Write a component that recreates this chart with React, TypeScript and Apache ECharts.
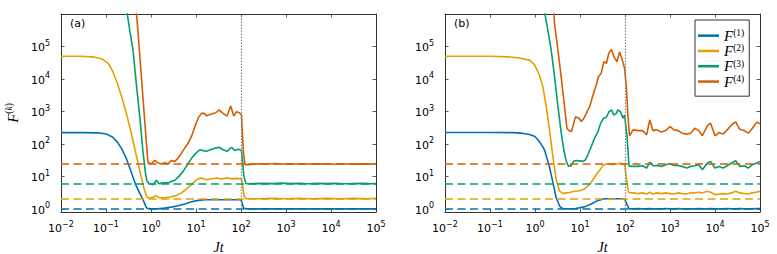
import React, { useEffect, useRef } from "react";
import * as echarts from "echarts";

// ---------- data (first value of each pair: log10(Jt), second: F^(k)) ----------
const SERIES_NAMES = ["F1", "F2", "F3", "F4"];
const COLORS = ["#0072B2", "#E69F00", "#009E73", "#D55E00"];
const EXACT_VALUES = [1, 2, 6, 24];
const QUENCH_TIME = 100;
const X_MIN = 0.01;
const X_MAX = 1e5;
const Y_MIN = 0.8;
const Y_MAX = 1e6;

const A_F1 = [
  [-2, 222], [-1.5, 222], [-1.2, 218], [-1.05, 208], [-0.95, 190], [-0.85, 160], [-0.75, 115],
  [-0.65, 70], [-0.55, 36], [-0.45, 15], [-0.35, 6], [-0.25, 3.0], [-0.18, 1.95], [-0.1, 1.07],
  [-0.03, 1.0], [0.05, 1.0], [0.15, 1.0], [0.3, 1.06], [0.45, 1.13], [0.6, 1.24], [0.75, 1.42],
  [0.9, 1.65], [1.05, 1.82], [1.2, 1.9], [1.5, 1.9], [1.8, 1.9], [2.0, 1.9], [2.06, 1.05],
  [2.12, 1.0], [3, 1.0], [4, 1.0], [5, 1.0],
];
const A_F2 = [
  [-2, 50000], [-1.6, 50000], [-1.3, 48000], [-1.1, 42000], [-0.95, 30000], [-0.85, 17000],
  [-0.75, 7500], [-0.65, 2800], [-0.55, 900], [-0.45, 250], [-0.37, 80], [-0.3, 30], [-0.22, 10],
  [-0.15, 4], [-0.1, 2.45], [-0.07, 2.2], [0.03, 2.2], [0.1, 2.55], [0.18, 2.2], [0.3, 2.2],
  [0.45, 2.35], [0.56, 2.55], [0.68, 3.1], [0.79, 4.1], [0.9, 5.55], [1.01, 7.9], [1.11, 8.9],
  [1.23, 7.9], [1.35, 8.5], [1.46, 8.9], [1.57, 8.4], [1.69, 8.9], [1.81, 8.4], [1.9, 8.7],
  [2.01, 8.4], [2.07, 2.45], [2.11, 2.05], [2.4, 2.05], [2.7, 2.1], [3.0, 2.05], [3.3, 2.1],
  [3.6, 2.05], [3.9, 2.1], [4.2, 2.05], [4.5, 2.1], [4.8, 2.05], [5.0, 2.1],
];
const A_F3 = [
  [-0.56, 2e6], [-0.47, 3e5], [-0.4, 7.8e4], [-0.33, 8000], [-0.25, 700], [-0.18, 60], [-0.12, 12],
  [-0.09, 7.1], [-0.03, 5.9], [0.045, 5.55], [0.12, 7.6], [0.18, 5.9], [0.27, 6.3], [0.38, 6.3],
  [0.455, 7.1], [0.53, 7.6], [0.62, 10], [0.71, 14], [0.81, 23], [0.9, 36], [1.0, 52], [1.085, 66],
  [1.16, 62], [1.23, 59], [1.32, 66], [1.42, 74], [1.515, 79], [1.6, 66], [1.69, 59], [1.79, 79],
  [1.86, 63], [1.94, 69], [2.01, 63], [2.065, 10], [2.11, 5.9], [2.3, 6.0], [2.5, 6.1], [2.7, 6.0],
  [2.9, 6.2], [3.1, 6.0], [3.3, 6.1], [3.5, 5.9], [3.7, 6.1], [3.9, 6.0], [4.1, 6.1], [4.3, 5.9],
  [4.5, 6.0], [4.7, 6.1], [4.9, 5.9], [5.0, 6.0],
];
const A_F4 = [
  [-0.34, 2e6], [-0.28, 2e5], [-0.22, 1.5e4], [-0.16, 1200], [-0.11, 150], [-0.067, 26],
  [0.009, 24.5], [0.08, 31], [0.156, 26], [0.23, 24.5], [0.305, 26], [0.38, 24.5], [0.455, 31],
  [0.528, 29], [0.6, 36], [0.677, 52], [0.75, 74], [0.824, 105], [0.9, 170], [0.973, 340],
  [1.047, 620], [1.12, 870], [1.18, 870], [1.23, 740], [1.345, 830], [1.44, 910], [1.515, 1120],
  [1.6, 870], [1.69, 720], [1.77, 1480], [1.84, 720], [1.9, 980], [1.96, 910], [2.01, 780],
  [2.05, 66], [2.087, 23], [2.16, 23], [2.3, 24], [2.45, 24.5], [2.6, 24], [2.75, 25], [2.9, 24],
  [3.05, 24.5], [3.2, 24], [3.35, 24.5], [3.5, 24], [3.65, 24.3], [3.8, 23.8], [3.95, 24.5],
  [4.1, 23.5], [4.25, 24.5], [4.4, 24], [4.55, 23.8], [4.7, 24.3], [4.85, 23.8], [5.0, 24.5],
];

const B_F1_HEAD = [
  [-2, 224], [-1, 224], [-0.5, 222], [-0.3, 214], [-0.12, 195], [0.0, 168], [0.1, 117], [0.21, 66],
  [0.32, 20], [0.4, 6.3], [0.47, 2.2], [0.55, 1.2], [0.62, 1.02], [0.73, 1.0], [0.9, 1.02],
  [1.1, 1.15], [1.25, 1.41], [1.4, 1.82], [1.55, 2.05], [1.75, 2.05], [1.99, 2.05], [2.045, 1.35],
  [2.09, 1.0],
];
const B_F2_HEAD = [
  [-2, 50000], [-1, 50000], [-0.6, 48000], [-0.35, 44000], [-0.12, 38000], [-0.01, 27000],
  [0.1, 13000], [0.174, 5800], [0.25, 1400], [0.323, 270], [0.397, 41], [0.47, 8], [0.546, 3.5],
  [0.62, 2.95], [0.695, 3.1], [0.77, 3.2], [0.88, 3.5], [0.99, 3.6], [1.1, 4.1], [1.21, 5.6],
  [1.29, 7.9], [1.36, 11.2], [1.44, 15.8], [1.51, 21.4], [1.57, 24], [1.66, 24.5], [1.73, 23],
  [1.79, 24.5], [1.84, 24], [1.9, 25.7], [1.955, 23], [1.99, 24.5], [2.045, 6.3], [2.08, 3.2],
];
const B_F3_HEAD = [
  [0.2, 1.5e6], [0.285, 3.2e5], [0.36, 7.8e4], [0.434, 1.2e4], [0.51, 1400], [0.583, 214],
  [0.64, 66], [0.695, 29], [0.746, 20.4], [0.806, 21.4], [0.857, 29], [0.917, 31], [0.99, 30],
  [1.065, 29], [1.118, 32], [1.176, 47], [1.25, 83], [1.325, 151], [1.4, 240], [1.46, 437],
  [1.526, 617], [1.586, 661], [1.644, 977], [1.7, 1120], [1.75, 776], [1.81, 871], [1.84, 1120],
  [1.9, 977], [1.955, 617], [1.99, 776], [2.045, 170], [2.09, 20.4],
];
const B_F4_HEAD = [
  [0.41, 1.5e6], [0.434, 5.1e5], [0.51, 7.8e4], [0.58, 1.2e4], [0.657, 1400], [0.71, 300],
  [0.753, 257], [0.806, 240], [0.84, 340], [0.9, 690], [0.976, 617], [1.03, 490], [1.087, 617],
  [1.14, 870], [1.214, 1400], [1.29, 3200], [1.36, 6500], [1.41, 11700], [1.47, 14800],
  [1.53, 34000], [1.586, 30000], [1.64, 62000], [1.7, 81000], [1.755, 48000], [1.82, 34000],
  [1.88, 68000], [1.94, 38000], [1.99, 21400], [2.03, 5800], [2.067, 690], [2.1, 178],
];

const B_TAIL_LT = [
  2.18, 2.29, 2.39, 2.48, 2.55, 2.62, 2.71, 2.81, 2.9, 3.0, 3.09, 3.18, 3.27, 3.37, 3.46, 3.55,
  3.64, 3.72, 3.83, 3.9, 4.0, 4.09, 4.18, 4.27, 4.37, 4.46, 4.55, 4.65, 4.74, 4.83, 4.93, 5.0,
];
const B_TAIL_F1 = [
  1.0, 1.02, 1.0, 1.0, 1.03, 1.0, 1.01, 1.0, 1.02, 1.0, 1.0, 1.02, 1.0, 1.01, 1.0, 1.0,
  1.02, 1.0, 1.0, 1.03, 1.0, 1.01, 1.0, 1.02, 1.0, 1.0, 1.02, 1.0, 1.01, 1.0, 1.02, 1.03,
];
const B_TAIL_F2 = [
  3.1, 2.95, 3.1, 2.88, 3.23, 2.88, 3.1, 2.95, 3.1, 2.95, 2.88, 3.1, 2.95, 2.88, 3.1, 3.1,
  3.23, 3.1, 3.46, 3.23, 2.75, 2.88, 2.95, 2.88, 3.1, 3.46, 3.1, 2.95, 2.88, 3.1, 3.3, 3.46,
];
const B_TAIL_F3 = [
  20.3, 20.3, 21.3, 18.1, 27.6, 21.3, 21.7, 20.3, 22.9, 24.6, 21.7, 21.7, 20.3, 18.1, 20.3, 21.3,
  22.9, 16, 25.8, 28.9, 18.1, 20.3, 18.1, 21.3, 25.8, 30.3, 20.3, 21.3, 18.1, 22.9, 25.8, 28.9,
];
const B_TAIL_F4 = [
  270, 257, 257, 190, 550, 257, 270, 234, 257, 340, 270, 257, 214, 200, 214, 302,
  257, 178, 363, 437, 178, 224, 200, 270, 389, 479, 282, 257, 214, 302, 468, 417,
];

const PANEL_LABELS = ["(a)", "(b)"];

// ---------- helpers ----------
const toPoints = (pairs: number[][]) => pairs.map(([lt, f]) => [Math.pow(10, lt), f]);
const withTail = (head: number[][], tail: number[]) =>
  head.concat(B_TAIL_LT.map((lt, i) => [lt, tail[i]]));

const PANEL_A = [A_F1, A_F2, A_F3, A_F4];
const PANEL_B = [
  withTail(B_F1_HEAD, B_TAIL_F1),
  withTail(B_F2_HEAD, B_TAIL_F2),
  withTail(B_F3_HEAD, B_TAIL_F3),
  withTail(B_F4_HEAD, B_TAIL_F4),
];

const MINUS = "\u2212";
const powLabel = (maxExp: number) => (v: number) => {
  const lg = Math.log10(v);
  const e = Math.round(lg);
  if (Math.abs(lg - e) > 0.02 || e > maxExp) return "";
  return `{b|10}{s|${e < 0 ? MINUS + -e : e}}`;
};

const TICK_RICH = {
  b: { fontFamily: "DejaVu Sans", fontSize: 11, lineHeight: 14, verticalAlign: "bottom", color: "#000" },
  s: { fontFamily: "DejaVu Sans", fontSize: 8, lineHeight: 14, verticalAlign: "top", color: "#000" },
};
const FRAME = "#333";

export default function App() {
  const ref = useRef<HTMLDivElement>(null);
  useEffect(() => {
    if (!ref.current) return;
    const chart = echarts.init(ref.current, null, { renderer: "svg" });

    const grids = [
      { left: 61, top: 14, width: 315, height: 198, containLabel: false, outerBoundsMode: "none" },
      { left: 445, top: 14, width: 315, height: 198, containLabel: false, outerBoundsMode: "none" },
    ];

    const xAxes: any[] = [];
    const yAxes: any[] = [];
    grids.forEach((_, g) => {
      const axisLine = { show: true, onZero: false, lineStyle: { color: FRAME, width: 1 } };
      const axisTick = { show: true, inside: true, length: 3.5, lineStyle: { color: FRAME, width: 0.8 } };
      xAxes.push({
        type: "log", logBase: 10, gridIndex: g, min: X_MIN, max: X_MAX, position: "bottom",
        axisLine, axisTick, splitLine: { show: false }, minorTick: { show: false },
        axisLabel: { margin: 8, formatter: powLabel(99), rich: TICK_RICH },
        name: "Jt", nameLocation: "middle", nameGap: 29,
        nameTextStyle: { fontFamily: "Liberation Serif", fontStyle: "italic", fontSize: 14, lineHeight: 12, color: "#000" },
      });
      xAxes.push({
        type: "log", logBase: 10, gridIndex: g, min: X_MIN, max: X_MAX, position: "top",
        axisLine, axisTick, splitLine: { show: false }, axisLabel: { show: false },
      });
      yAxes.push({
        type: "log", logBase: 10, gridIndex: g, min: Y_MIN, max: Y_MAX, position: "left",
        axisLine, axisTick, splitLine: { show: false }, minorTick: { show: false },
        axisLabel: { margin: 11, formatter: powLabel(5), rich: TICK_RICH },
        ...(g === 0
          ? {
              name: "{F|F}{p|(}{k|k}{p|)}",
              nameLocation: "middle",
              nameGap: 41,
              nameRotate: 90,
              nameTextStyle: {
                rich: {
                  F: { fontFamily: "Liberation Serif", fontStyle: "italic", fontSize: 15, lineHeight: 16, verticalAlign: "bottom", color: "#000" },
                  p: { fontFamily: "Liberation Serif", fontSize: 9.5, lineHeight: 16, verticalAlign: "top", color: "#000" },
                  k: { fontFamily: "Liberation Serif", fontStyle: "italic", fontSize: 9.5, lineHeight: 16, verticalAlign: "top", color: "#000" },
                },
              },
            }
          : {}),
      });
      yAxes.push({
        type: "log", logBase: 10, gridIndex: g, min: Y_MIN, max: Y_MAX, position: "right",
        axisLine, axisTick, splitLine: { show: false }, axisLabel: { show: false },
      });
    });

    const series: any[] = [];
    [PANEL_A, PANEL_B].forEach((panel, g) => {
      panel.forEach((pairs, k) => {
        const color = COLORS[k];
        const markData: any[] = [
          { yAxis: EXACT_VALUES[k], lineStyle: { color, type: [8, 4.5], width: 1.6 } },
        ];
        if (k === 0) {
          markData.push({ xAxis: QUENCH_TIME, lineStyle: { color: "#808080", type: [1.5, 1.5], width: 1.2 } });
        }
        series.push({
          type: "line",
          name: SERIES_NAMES[k],
          xAxisIndex: g * 2,
          yAxisIndex: g * 2,
          data: toPoints(pairs),
          showSymbol: false,
          symbol: "none",
          color,
          lineStyle: { color, width: 1.6 },
          clip: true,
          silent: true,
          markLine: {
            silent: true,
            symbol: ["none", "none"],
            label: { show: false },
            data: markData,
          },
        });
      });
    });

    chart.setOption({
      animation: false,
      grid: grids,
      xAxis: xAxes,
      yAxis: yAxes,
      series,
      legend: {
        data: SERIES_NAMES,
        orient: "vertical",
        left: 695,
        top: 20,
        padding: [8, 5, 7, 3],
        itemGap: 0,
        itemWidth: 21,
        itemHeight: 2.5,
        icon: "rect",
        backgroundColor: "#fff",
        borderColor: FRAME,
        borderWidth: 1,
        borderRadius: 0,
        selectedMode: false,
        formatter: (name: string) => `{f|F}{s|(${name.slice(1)})}`,
        textStyle: {
          rich: {
            f: { fontFamily: "Liberation Serif", fontStyle: "italic", fontSize: 15, lineHeight: 15.3, verticalAlign: "bottom", color: "#000" },
            s: { fontFamily: "Liberation Serif", fontSize: 9.5, lineHeight: 15.3, verticalAlign: "top", color: "#000" },
          },
        },
      },
      graphic: PANEL_LABELS.map((t, i) => ({
        type: "text",
        left: i === 0 ? 70 : 454,
        top: 18,
        style: { text: t, fontFamily: "DejaVu Sans", fontSize: 11, fill: "#000" },
        silent: true,
      })),
    });
    return () => chart.dispose();
  }, []);
  return (
    <div
      ref={ref}
      style={{ position: "absolute", left: 0, top: 0, width: 777, height: 254, background: "#fff" }}
    />
  );
}
